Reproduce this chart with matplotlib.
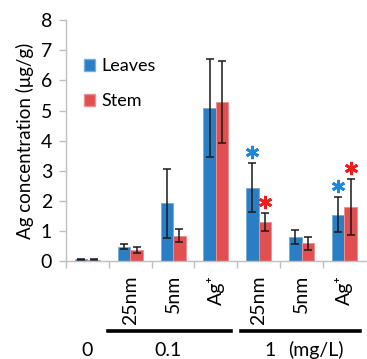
import matplotlib.pyplot as plt
import matplotlib.transforms as mtransforms
from matplotlib.patches import Patch
import numpy as np

plt.rcParams['font.family'] = ['Lato', 'DejaVu Sans']

# categories (concentration group, particle type)
treatments = ['', '25nm', '5nm', 'Ag⁺', '25nm', '5nm', 'Ag⁺']
groups = ['0', '0.1', '1']
leaves = [0.07, 0.48, 1.93, 5.09, 2.44, 0.82, 1.55]
leaves_err = [0.02, 0.08, 1.14, 1.62, 0.82, 0.23, 0.57]
stem = [0.06, 0.38, 0.85, 5.28, 1.31, 0.60, 1.81]
stem_err = [0.01, 0.10, 0.22, 1.37, 0.29, 0.21, 0.92]
# significant differences: (category index, series)
signif = [(4, 'leaves'), (4, 'stem'), (6, 'leaves'), (6, 'stem')]

blue = '#2A7EC3'
red = '#E05050'

fig = plt.figure(figsize=(3.67, 3.59), dpi=100)
ax = fig.add_axes([0.180, 0.272, 0.8166, 0.672])

x = np.arange(len(leaves))
w = 0.293
ax.bar(x - w / 2, leaves, w, color=blue, edgecolor='#79AEDB', linewidth=0.7,
       yerr=leaves_err, error_kw=dict(ecolor='#1a1a1a', elinewidth=1.1,
                                      capsize=3.2, capthick=1.1))
ax.bar(x + w / 2, stem, w, color=red, edgecolor='#EE9090', linewidth=0.7,
       yerr=stem_err, error_kw=dict(ecolor='#1a1a1a', elinewidth=1.1,
                                    capsize=3.2, capthick=1.1))

for i, s in signif:
    if s == 'leaves':
        xs, ys, c = x[i] - w / 2, leaves[i] + leaves_err[i], '#1E88D8'
    else:
        xs, ys, c = x[i] + w / 2, stem[i] + stem_err[i], '#F01C1C'
    ax.plot(xs, ys + 0.37, marker=(6, 2, 0), markersize=9.5,
            markeredgewidth=2.0, color=c, clip_on=False)

ax.set_xlim(-0.5, 6.5)
ax.set_ylim(0, 8)
ax.set_yticks(range(0, 9))
ax.set_xticks(np.arange(-0.5, 6.0, 1.0))
ax.set_xticklabels([])
ax.tick_params(axis='x', direction='out', length=5, width=1, color='#BFBFBF')
ax.tick_params(axis='y', direction='out', length=5, width=1, color='#BFBFBF',
               labelsize=14, pad=5)
for side in ['top', 'right']:
    ax.spines[side].set_visible(False)
for side in ['left', 'bottom']:
    ax.spines[side].set_color('#BFBFBF')
    ax.spines[side].set_linewidth(1)
ax.set_ylabel('Ag concentration (μg/g)', fontsize=13.5, labelpad=5)

# rotated treatment labels under the axis
for i, t in enumerate(treatments):
    if t:
        ax.annotate(t, xy=(x[i], 0), xycoords=('data', 'axes fraction'),
                    xytext=(0, -10), textcoords='offset points',
                    rotation=90, ha='center', va='top', fontsize=14)

# group bars and labels
trans = mtransforms.blended_transform_factory(ax.transData, fig.transFigure)
ax.plot([0.47, 3.35], [0.079, 0.079], color='black', lw=2.6,
        transform=trans, clip_on=False)
ax.plot([3.58, 6.37], [0.079, 0.079], color='black', lw=2.6,
        transform=trans, clip_on=False)
for gx, g in zip([0, 1.87, 4.26], groups):
    ax.text(gx, 0.025, g, transform=trans, ha='center', va='center',
            fontsize=14)
ax.text(5.34, 0.025, '(mg/L)', transform=trans, ha='center', va='center',
        fontsize=14)

handles = [Patch(facecolor=blue, edgecolor='#79AEDB', label='Leaves'),
           Patch(facecolor=red, edgecolor='#EE9090', label='Stem')]
ax.legend(handles=handles, loc='upper left', bbox_to_anchor=(0.035, 0.872),
          frameon=False, fontsize=13, handlelength=0.6, handleheight=0.6,
          handletextpad=0.4, labelspacing=1.05, borderaxespad=0)

fig.savefig('out.png', dpi=100)
